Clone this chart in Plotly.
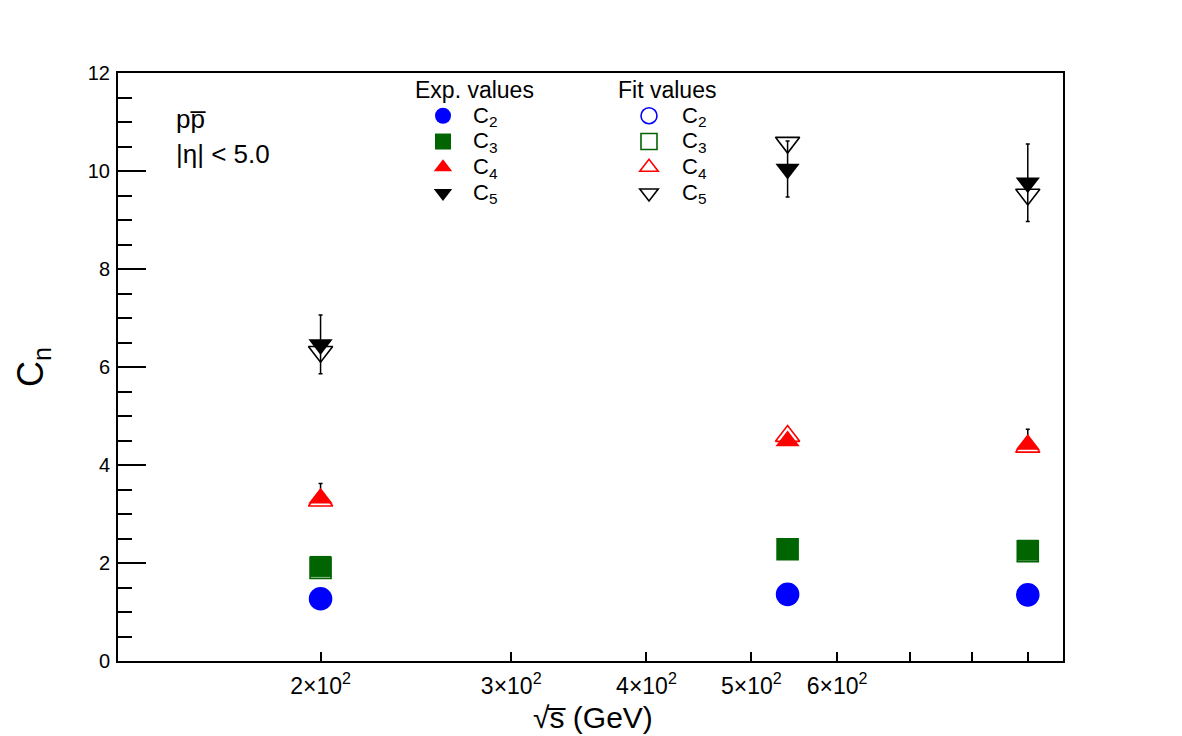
import plotly.graph_objects as go

# ---------------- data ----------------
energy = [200, 540, 900]

exp_c2 = [1.27, 1.36, 1.35]
exp_c3 = [1.93, 2.29, 2.26]
exp_c4 = [3.32, 4.49, 4.42]
exp_c5 = [6.46, 10.04, 9.76]

err_c2_up = [0.02, 0.02, 0.02]
err_c2_dn = [0.02, 0.02, 0.02]
err_c3_up = [0.05, 0.05, 0.05]
err_c3_dn = [0.05, 0.05, 0.05]
err_c4_up = [0.30, 0.10, 0.31]
err_c4_dn = [0.05, 0.05, 0.05]
err_c5_up = [0.60, 0.57, 0.79]
err_c5_dn = [0.60, 0.57, 0.79]

fit_c2 = [1.27, 1.36, 1.35]
fit_c3 = [1.90, 2.28, 2.24]
fit_c4 = [3.27, 4.59, 4.37]
fit_c5 = [6.31, 10.58, 9.52]

x_tickvals = [200, 300, 400, 500, 600, 700, 800, 900]
x_ticktext = ["2×10<sup>2</sup>", "3×10<sup>2</sup>", "4×10<sup>2</sup>",
              "5×10<sup>2</sup>", "6×10<sup>2</sup>", "", "", ""]

# ---------------- layout helpers ----------------
W, H = 1182, 736
ML, MR, MT, MB = 118, 119, 73, 75
PW, PH = W - ML - MR, H - MT - MB


def pxx(px):
    return (px - ML) / PW


def pxy(py):
    return (H - MB - py) / PH


FONT = "Liberation Sans, Arial, sans-serif"
BLUE, GREEN, RED, BLACK = "#0000ff", "#006400", "#ff0000", "#000000"

fig = go.Figure()


def legend_label(txt):
    return '<span style="font-size:22px">' + txt + '</span>'


series = [
    ("C<sub>2</sub>", exp_c2, err_c2_up, err_c2_dn, fit_c2, BLUE, "circle", 22),
    ("C<sub>3</sub>", exp_c3, err_c3_up, err_c3_dn, fit_c3, GREEN, "square", 21),
    ("C<sub>4</sub>", exp_c4, err_c4_up, err_c4_dn, fit_c4, RED, "triangle-up", 21),
    ("C<sub>5</sub>", exp_c5, err_c5_up, err_c5_dn, fit_c5, BLACK, "triangle-down", 21),
]

for name, vals, eu, ed, fits, col, sym, size in series:
    fig.add_trace(go.Scatter(
        x=energy, y=vals, mode="markers", name=legend_label(name), legend="legend",
        marker=dict(symbol=sym, size=size, color=col, line=dict(width=0)),
        error_y=dict(type="data", symmetric=False, array=eu, arrayminus=ed,
                     color="black", thickness=1.5, width=2),
    ))

for name, vals, eu, ed, fits, col, sym, size in series:
    fig.add_trace(go.Scatter(
        x=energy, y=fits, mode="markers", name=legend_label(name), legend="legend2",
        marker=dict(symbol=sym + "-open", size=size, color=col, line=dict(width=1.6, color=col)),
    ))

legend_common = dict(
    xanchor="left", yanchor="top", bgcolor="rgba(0,0,0,0)", borderwidth=0,
    font=dict(family=FONT, size=17.5, color="black"), tracegroupgap=0,
    itemclick=False, itemdoubleclick=False,
)
title_font = dict(family=FONT, size=23, color="black")
fig.update_layout(
    legend=dict(title=dict(text="Exp. values", font=title_font),
                x=pxx(413), y=pxy(68), itemwidth=50, **legend_common),
    legend2=dict(title=dict(text="Fit values", font=title_font),
                 x=pxx(616), y=pxy(68), itemwidth=56, **legend_common),
)

fig.update_xaxes(
    type="log", range=[2.11394, 2.98677],
    tickvals=x_tickvals, ticktext=x_ticktext,
    ticks="inside", ticklen=9, tickwidth=2, tickcolor="black",
    showline=True, linewidth=2, linecolor="black", mirror=True,
    showgrid=False, zeroline=False,
    tickfont=dict(family=FONT, size=23, color="black"),
    ticklabelstandoff=3,
)
fig.update_yaxes(
    range=[0, 12], dtick=2, tick0=0,
    ticks="inside", ticklen=28, tickwidth=1.5, tickcolor="black",
    minor=dict(dtick=0.5, ticks="inside", ticklen=14, tickwidth=1.5, tickcolor="black", showgrid=False),
    showline=True, linewidth=2, linecolor="black", mirror=True,
    showgrid=False, zeroline=False,
    tickfont=dict(family=FONT, size=20, color="black"),
    ticklabelstandoff=2,
)

annotations = [
    dict(text="√s\u0305 (GeV)", x=pxx(593), y=pxy(717), xref="paper", yref="paper",
         xanchor="center", yanchor="middle", showarrow=False,
         font=dict(family=FONT, size=30, color="black")),
    dict(text="C<sub>n</sub>", x=pxx(33), y=pxy(367), xref="paper", yref="paper",
         xanchor="center", yanchor="middle", showarrow=False, textangle=-90,
         font=dict(family=FONT, size=36, color="black")),
    dict(text="pp\u0305", x=pxx(174), y=pxy(119), xref="paper", yref="paper",
         xanchor="left", yanchor="middle", showarrow=False,
         font=dict(family=FONT, size=26, color="black")),
    dict(text="|η| < 5.0", x=pxx(174), y=pxy(154), xref="paper", yref="paper",
         xanchor="left", yanchor="middle", showarrow=False,
         font=dict(family=FONT, size=26, color="black")),
]

fig.update_layout(
    width=W, height=H,
    margin=dict(l=ML, r=MR, t=MT, b=MB, pad=0),
    paper_bgcolor="white", plot_bgcolor="white",
    font=dict(family=FONT, color="black"),
    annotations=annotations,
    showlegend=True,
)

fig.write_html("out.html")
